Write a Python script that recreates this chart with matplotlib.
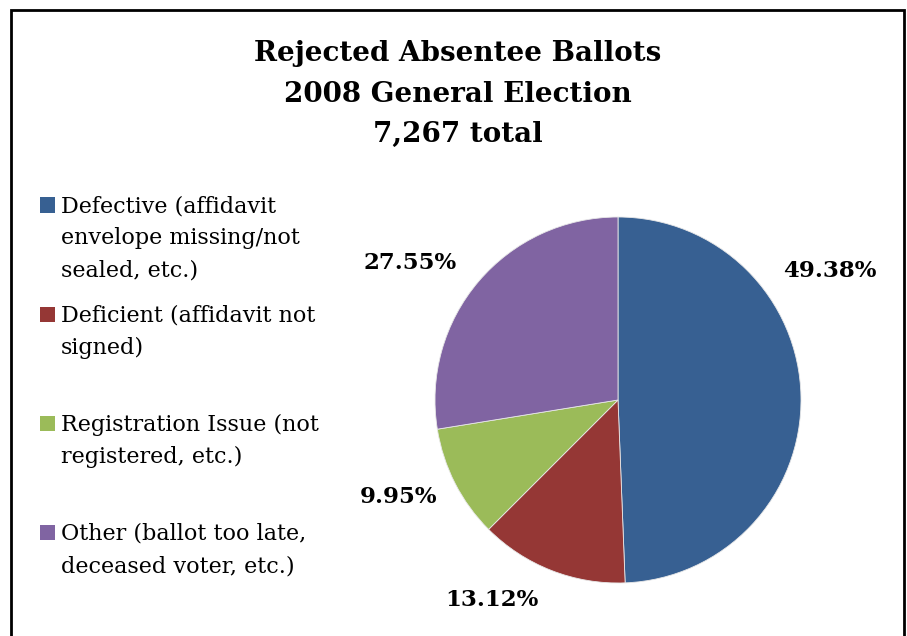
import numpy as np
import matplotlib
matplotlib.use('Agg')
import matplotlib.pyplot as plt
from matplotlib.patches import Rectangle

plt.rcParams['font.family'] = 'DejaVu Serif'

# data
categories = ['Defective (affidavit\nenvelope missing/not\nsealed, etc.)',
              'Deficient (affidavit not\nsigned)',
              'Registration Issue (not\nregistered, etc.)',
              'Other (ballot too late,\ndeceased voter, etc.)']
shares = [49.38, 13.12, 9.95, 27.55]
colors = ['#376092', '#953735', '#9BBB59', '#8064A2']
title = 'Rejected Absentee Ballots\n2008 General Election\n7,267 total'

# where the percent labels sit, in pie-radius units
label_pos = [(1.16, 0.705), (-0.69, -1.093), (-1.202, -0.53), (-1.137, 0.749)]

W, H = 907, 636
fig = plt.figure(figsize=(W / 100, H / 100), dpi=100)

# outer frame
fig.patches.append(Rectangle((11 / W, -0.05), (904 - 11) / W, (H - 10) / H + 0.05,
                             transform=fig.transFigure, fill=False,
                             edgecolor='black', linewidth=2))

fig.text(457.5 / W, 1 - 40 / H, title, ha='center', va='top', fontsize=20,
         fontweight='bold', linespacing=1.65)

# pie axes: centre (618,400) px, radius 183 px
r, cx, cy = 183, 618, 400
L = 1.4
side = 2 * L * r
ax = fig.add_axes([(cx - side / 2) / W, (H - cy - side / 2) / H, side / W, side / H])
wedges, _, autotexts = ax.pie(shares, colors=colors, startangle=90, counterclock=False,
                              autopct='%.2f%%', radius=1,
                              wedgeprops=dict(edgecolor='#E8E8E8', linewidth=0.6),
                              textprops=dict(fontsize=16.5, fontweight='bold'))
for t, (px, py) in zip(autotexts, label_pos):
    t.set_position((px, py))
    t.set_ha('center')
    t.set_va('center')
ax.set_xlim(-L, L)
ax.set_ylim(-L, L)
ax.axis('off')

# legend, entries evenly spaced
top0, step = 205, 109.3
for i, (lab, c) in enumerate(zip(categories, colors)):
    yc = top0 + i * step
    fig.patches.append(Rectangle((40 / W, 1 - (yc + 7.5) / H), 15 / W, 15 / H,
                                 transform=fig.transFigure, facecolor=c, edgecolor='none'))
    fig.text(61 / W, 1 - (yc - 10) / H, lab, ha='left', va='top', fontsize=16,
             linespacing=1.6)

fig.savefig('out.png', dpi=100)
